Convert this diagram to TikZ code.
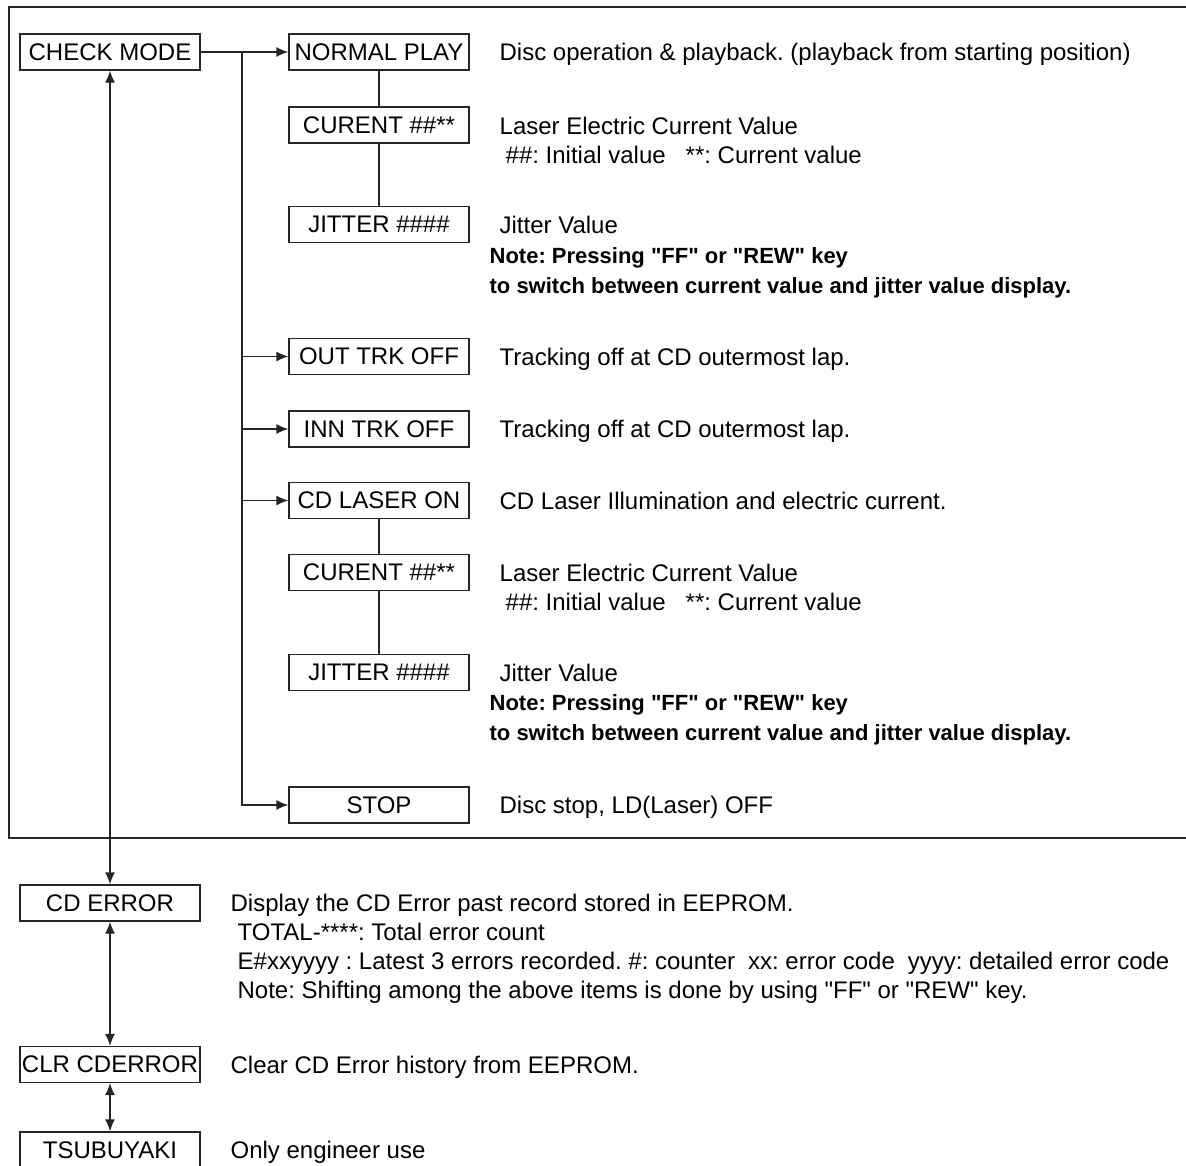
\documentclass[tikz,border=0pt]{standalone}
\usepackage{fontspec}
\setmainfont{Liberation Sans}[Ligatures=TeXOff]
\usetikzlibrary{arrows.meta,positioning}

\begin{document}
\begin{tikzpicture}[
  x=1pt, y=-1pt,
  font=\fontsize{24}{29}\selectfont\frenchspacing,
  line width=1.3pt, draw=black!85,
  box/.style={draw, minimum width=180pt, minimum height=36pt, inner sep=0pt},
  desc/.style={anchor=base west, align=left, inner sep=0pt},
  note/.style={desc, font=\fontsize{22}{30}\selectfont\frenchspacing\bfseries},
  arr/.style={-{Latex[length=12pt,width=10pt]}},
  dbl/.style={{Latex[length=12pt,width=10pt]}-{Latex[length=12pt,width=10pt]}},
  frame/.style={line width=1.6pt}
]
\useasboundingbox (0,0) rectangle (1186,1165);
\draw[frame] (1188,7) -- (9,7) -- (9,838) -- (1188,838);

\node[box] (chk) at (110,52) {CHECK MODE};
\node[box] (play) at (379,52) {NORMAL PLAY};
\node[box] (cur1) at (379,125) {CURENT \#\#**};
\node[box] (jit1) at (379,224.5) {JITTER \#\#\#\#};
\node[box] (outtrk) at (379,356.5) {OUT TRK OFF};
\node[box] (inntrk) at (379,429) {INN TRK OFF};
\node[box] (laser) at (379,500.5) {CD LASER ON};
\node[box] (cur2) at (379,572.5) {CURENT \#\#**};
\node[box] (jit2) at (379,672.5) {JITTER \#\#\#\#};
\node[box] (stop) at (379,805) {STOP};
\node[box] (err) at (110,903) {CD ERROR};
\node[box] (clr) at (110,1064.5) {CLR CDERROR};
\node[box] (tsu) at (110,1150) {TSUBUYAKI};

\node[desc] (dplay) at (499,60.5) {Disc operation \& playback. (playback from starting position)};
\node[desc] (dcur1) at (499,163) {Laser Electric Current Value\\\hspace*{6pt}\#\#: Initial value\hspace{20pt}**: Current value};
\node[desc] (djit1) at (499,233) {Jitter Value};
\node[note] (note1) at (489,293) {Note: Pressing "FF" or "REW" key\\to switch between current value and jitter value display.};
\node[desc] (douttrk) at (499,365) {Tracking off at CD outermost lap.};
\node[desc] (dinntrk) at (499,437.5) {Tracking off at CD outermost lap.};
\node[desc] (dlaser) at (499,509) {CD Laser Illumination and electric current.};
\node[desc] (dcur2) at (499,610) {Laser Electric Current Value\\\hspace*{6pt}\#\#: Initial value\hspace{20pt}**: Current value};
\node[desc] (djit2) at (499,681) {Jitter Value};
\node[note] (note2) at (489,740) {Note: Pressing "FF" or "REW" key\\to switch between current value and jitter value display.};
\node[desc] (dstop) at (499,813.5) {Disc stop, LD(Laser) OFF};
\node[desc] (derr) at (230,998.5) {Display the CD Error past record stored in EEPROM.\\
  \hspace*{7pt}TOTAL-****: Total error count\\
  \hspace*{7pt}E\#xxyyyy : Latest 3 errors recorded. \#: counter\hspace{13pt}xx: error code\hspace{13pt}yyyy: detailed error code\\
  \hspace*{7pt}Note: Shifting among the above items is done by using "FF" or "REW" key.};
\node[desc] (dclr) at (230,1073) {Clear CD Error history from EEPROM.};
\node[desc] (dtsu) at (230,1158.5) {Only engineer use};

\coordinate (sp) at (242,52);
\coordinate (b1) at (sp |- outtrk);
\coordinate (b2) at (sp |- inntrk);
\coordinate (b3) at (sp |- laser);

\draw[arr] (chk) -- (play);
\draw[arr] (sp) |- (stop);
\draw[arr] (b1) -- (outtrk);
\draw[arr] (b2) -- (inntrk);
\draw[arr] (b3) -- (laser);
\draw (play) -- (cur1) -- (jit1);
\draw (laser) -- (cur2) -- (jit2);
\draw[dbl] (chk) -- (err);
\draw[dbl] (err) -- (clr);
\draw[dbl] (clr) -- (tsu);
\end{tikzpicture}
\end{document}
